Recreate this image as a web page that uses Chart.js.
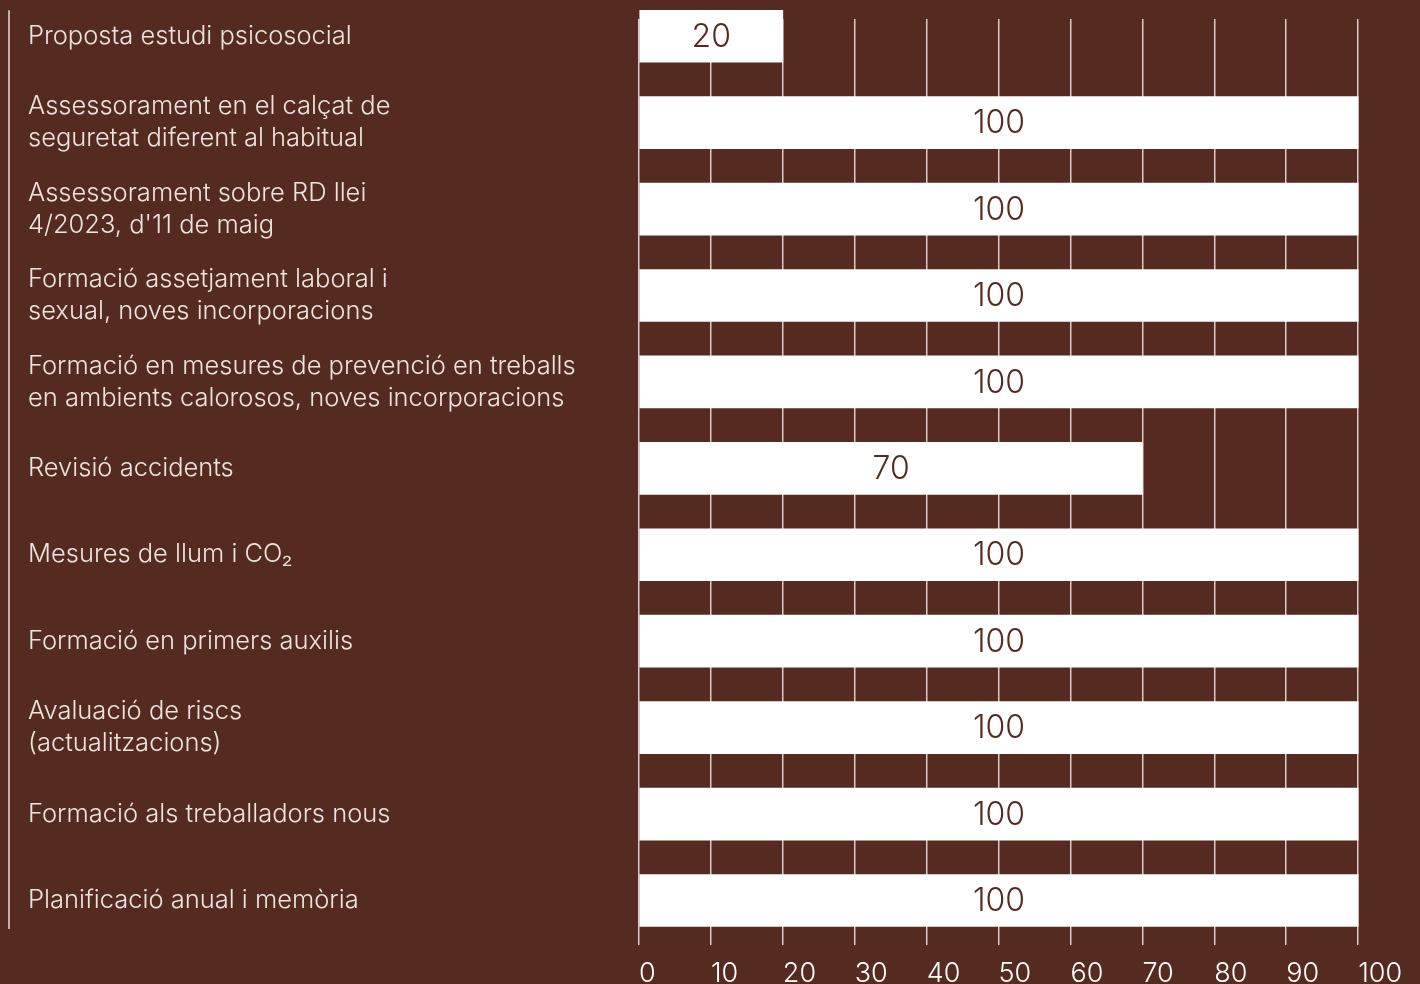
<!DOCTYPE html>
<html>
<head>
<meta charset="utf-8">
<script src="https://cdn.jsdelivr.net/npm/chart.js@4.4.1/dist/chart.umd.min.js"></script>
<style>
  html, body { margin: 0; padding: 0; background: #552b21; overflow: hidden; }
  #wrap { width: 1420px; height: 984px; }
</style>
</head>
<body>
<div id="wrap"><canvas id="tasks"></canvas></div>
<script>
const canvas = document.getElementById("tasks");
const BROWN = "#552b21";
const FONT = "Inter, 'Noto Sans', sans-serif";

// one entry per row, each line of a label is its own string
const categories = [
  ["Proposta estudi psicosocial"],
  ["Assessorament en el calçat de", "seguretat diferent al habitual"],
  ["Assessorament sobre RD llei", "4/2023, d'11 de maig"],
  ["Formació assetjament laboral i", "sexual, noves incorporacions"],
  ["Formació en mesures de prevenció en treballs", "en ambients calorosos, noves incorporacions"],
  ["Revisió accidents"],
  ["Mesures de llum i CO₂"],
  ["Formació en primers auxilis"],
  ["Avaluació de riscs", "(actualitzacions)"],
  ["Formació als treballadors nous"],
  ["Planificació anual i memòria"],
];
const values = [20, 100, 100, 100, 100, 70, 100, 100, 100, 100, 100];
const xTicks = [0, 10, 20, 30, 40, 50, 60, 70, 80, 90, 100];

// thin line down the left side of the labels
const leftRule = {
  id: "leftRule",
  beforeDatasetsDraw(chart) {
    const first = chart.getDatasetMeta(0).data[0];
    if (!first) return;
    const { ctx, chartArea } = chart;
    ctx.save();
    ctx.strokeStyle = "#e9dcd7";
    ctx.lineWidth = 1.5;
    ctx.beginPath();
    ctx.moveTo(9, first.y - first.height / 2);
    ctx.lineTo(9, chartArea.bottom);
    ctx.stroke();
    ctx.restore();
  },
};

// value printed in the middle of each bar
const barValues = {
  id: "barValues",
  afterDatasetsDraw(chart) {
    const { ctx } = chart;
    ctx.save();
    ctx.fillStyle = BROWN;
    ctx.font = "300 32px " + FONT;
    ctx.textAlign = "center";
    ctx.textBaseline = "middle";
    chart.getDatasetMeta(0).data.forEach((bar, i) => {
      ctx.fillText(String(values[i]), (bar.base + bar.x) / 2, bar.y + 1);
    });
    ctx.restore();
  },
};

new Chart(canvas, {
  type: "bar",
  data: {
    datasets: [
      {
        data: values.map((v, i) => ({ x: v, y: i })),
        backgroundColor: "#ffffff",
        borderWidth: 0,
        barThickness: 52,
        clip: false,
      },
    ],
  },
  options: {
    indexAxis: "y",
    responsive: true,
    maintainAspectRatio: false,
    animation: false,
    layout: { padding: { top: 16, left: 28, right: 0, bottom: 0 } },
    plugins: { legend: { display: false }, tooltip: { enabled: false } },
    scales: {
      x: {
        type: "linear",
        min: 0,
        max: 108.6,
        afterBuildTicks: (s) => {
          s.ticks = xTicks.map((v) => ({ value: v }));
        },
        afterFit: (s) => {
          s.height = 55;
        },
        grid: { color: "rgba(240,222,216,0.9)", lineWidth: 1.5, tickLength: 16 },
        border: { display: false },
        ticks: { color: "#ffffff", font: { family: FONT, size: 27, weight: "300" }, align: "start", padding: 13 },
      },
      y: {
        type: "linear",
        reverse: true,
        offset: false,
        min: -0.2,
        max: 10.33,
        afterBuildTicks: (s) => {
          s.ticks = categories.map((_, i) => ({ value: i }));
        },
        afterFit: (s) => {
          s.width = 611;
        },
        grid: { display: false },
        border: { display: false },
        ticks: {
          color: "#eee3df",
          font: { family: FONT, size: 25.5, weight: "300", lineHeight: 1.25 },
          crossAlign: "far",
          callback: (v) => categories[v] || "",
        },
      },
    },
  },
  plugins: [leftRule, barValues],
});
</script>
</body>
</html>
